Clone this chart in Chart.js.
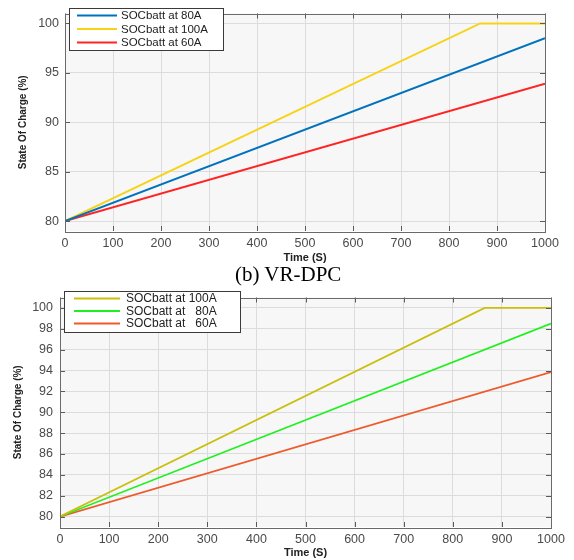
<!DOCTYPE html>
<html>
<head>
<meta charset="utf-8">
<script src="https://cdn.jsdelivr.net/npm/chart.js@4.4.1/dist/chart.umd.min.js"></script>
<style>
  html, body { margin: 0; padding: 0; background: #fff; }
  body { width: 574px; height: 560px; position: relative; overflow: hidden; }
  #wrapA { position: absolute; left: 0; top: 0; width: 574px; height: 265px; }
  #wrapB { position: absolute; left: 0; top: 283px; width: 574px; height: 277px; }
  #caption { position: absolute; left: 235px; top: 264px; font-family: "Liberation Serif", "Times New Roman", serif; font-size: 21px; line-height: 21px; color: #000; white-space: nowrap; }
</style>
</head>
<body>
<div id="wrapA"><canvas id="chartA" width="574" height="265"></canvas></div>
<div id="wrapB"><canvas id="chartB" width="574" height="277"></canvas></div>
<div id="caption">(b) VR-DPC</div>
<script>
// ---------- data ----------
const xTicks = [0, 100, 200, 300, 400, 500, 600, 700, 800, 900, 1000];
const yTicksTop = [80, 85, 90, 95, 100];
const yTicksBottom = [80, 82, 84, 86, 88, 90, 92, 94, 96, 98, 100];

const timeFull = [0, 1000];
const timeSat = [0, 865, 1000];

// top chart
const topLabels = ["SOCbatt at 80A", "SOCbatt at 100A", "SOCbatt at 60A"];
const top80 = [80, 98.5];
const top100 = [80, 100, 100];
const top60 = [80, 93.9];

// bottom chart
const bottomLabels = ["SOCbatt at 100A", "SOCbatt at   80A", "SOCbatt at   60A"];
const bottom100 = [80, 100, 100];
const bottom80 = [80, 98.5];
const bottom60 = [80, 93.85];

function pts(xs, ys) { return xs.map((x, i) => ({ x: x, y: ys[i] })); }

// ---------- plugins ----------
const bgPlugin = {
  id: 'bgPlugin',
  beforeDraw(chart) {
    const a = chart.chartArea, ctx = chart.ctx;
    ctx.save();
    ctx.fillStyle = '#f7f7f7';
    ctx.fillRect(a.left, a.top, a.right - a.left, a.bottom - a.top);
    ctx.restore();
  }
};

const boxPlugin = {
  id: 'boxPlugin',
  afterDatasetsDraw(chart) {
    const a = chart.chartArea, ctx = chart.ctx;
    const xs = chart.scales.x, ys = chart.scales.y;
    ctx.save();
    ctx.strokeStyle = '#5a5a5a';
    ctx.lineWidth = 1;
    ctx.beginPath();
    xs.ticks.forEach(t => {
      const px = Math.round(xs.getPixelForValue(t.value)) + 0.5;
      ctx.moveTo(px, a.bottom); ctx.lineTo(px, a.bottom - 5);
      ctx.moveTo(px, a.top); ctx.lineTo(px, a.top + 5);
    });
    ys.ticks.forEach(t => {
      const py = Math.round(ys.getPixelForValue(t.value)) + 0.5;
      ctx.moveTo(a.left, py); ctx.lineTo(a.left + 5, py);
      ctx.moveTo(a.right, py); ctx.lineTo(a.right - 5, py);
    });
    ctx.stroke();
    ctx.strokeStyle = '#6a6a6a';
    ctx.strokeRect(Math.round(a.left) + 0.5, Math.round(a.top) + 0.5,
                   Math.round(a.right - a.left), Math.round(a.bottom - a.top));
    ctx.restore();
  }
};

const legendPlugin = {
  id: 'legendPlugin',
  afterDraw(chart, args, opts) {
    const ctx = chart.ctx;
    ctx.save();
    ctx.fillStyle = '#ffffff';
    ctx.fillRect(opts.x, opts.y, opts.w, opts.h);
    ctx.strokeStyle = '#3a3a3a';
    ctx.lineWidth = 1;
    ctx.strokeRect(opts.x + 0.5, opts.y + 0.5, opts.w, opts.h);
    ctx.font = opts.fontSize + 'px "Liberation Sans", Arial, sans-serif';
    ctx.textBaseline = 'middle';
    ctx.textAlign = 'left';
    chart.data.datasets.forEach((ds, i) => {
      const yy = opts.y + opts.row0 + i * opts.rowH;
      ctx.strokeStyle = ds.borderColor;
      ctx.lineWidth = opts.lw;
      ctx.beginPath();
      ctx.moveTo(opts.x + opts.l0, yy);
      ctx.lineTo(opts.x + opts.l1, yy);
      ctx.stroke();
      ctx.fillStyle = '#222';
      ctx.fillText(ds.label, opts.x + opts.tx, yy + 0.5);
    });
    ctx.restore();
  }
};

function makeOptions(cfg) {
  return {
    responsive: false,
    animation: false,
    layout: { padding: { top: cfg.padTop, right: cfg.padRight, left: 0, bottom: 0 } },
    plugins: {
      legend: { display: false },
      tooltip: { enabled: false },
      legendPlugin: cfg.legend
    },
    scales: {
      x: {
        type: 'linear', min: 0, max: 1000,
        afterBuildTicks: s => { s.ticks = xTicks.map(v => ({ value: v })); },
        afterFit: s => { s.height = cfg.xHeight; },
        grid: { color: '#dcdcdc', drawTicks: false, lineWidth: 1 },
        border: { display: false },
        ticks: { padding: cfg.xTickPad, color: '#4a4a4a', callback: v => String(v), font: { family: '"Liberation Sans", Arial, sans-serif', size: 12.5 }, maxRotation: 0, autoSkip: false },
        title: { display: true, text: 'Time (S)', color: '#222', padding: { top: 0, bottom: cfg.xTitlePad }, font: { family: '"Liberation Sans", Arial, sans-serif', size: 11, weight: 'bold' } }
      },
      y: {
        type: 'linear', min: 79, max: 101,
        afterBuildTicks: s => { s.ticks = cfg.yTicks.map(v => ({ value: v })); },
        afterFit: s => { s.width = cfg.yWidth; },
        grid: { color: '#dcdcdc', drawTicks: false, lineWidth: 1 },
        border: { display: false },
        ticks: { padding: cfg.yTickPad, color: '#4a4a4a', callback: v => String(v), font: { family: '"Liberation Sans", Arial, sans-serif', size: 12.5 }, autoSkip: false },
        title: { display: true, text: 'State Of Charge (%)', color: '#222', padding: { top: cfg.yTitlePad, bottom: 0 }, font: { family: '"Liberation Sans", Arial, sans-serif', size: 10, weight: 'bold' } }
      }
    },
    elements: { point: { radius: 0 }, line: { tension: 0 } }
  };
}

// ---------- top chart ----------
new Chart(document.getElementById('chartA'), {
  type: 'line',
  data: {
    datasets: [
      { label: topLabels[0], data: pts(timeFull, top80), borderColor: '#0072BD', borderWidth: 2, fill: false },
      { label: topLabels[1], data: pts(timeSat, top100), borderColor: '#F7D318', borderWidth: 2, fill: false },
      { label: topLabels[2], data: pts(timeFull, top60), borderColor: '#FF2424', borderWidth: 2, fill: false }
    ]
  },
  options: makeOptions({
    padTop: 6, padRight: 29, xHeight: 34, yWidth: 65,
    xTickPad: 5, xTitlePad: 0, yTickPad: 6, yTitlePad: 17, yTicks: yTicksTop,
    legend: { x: 69, y: 8, w: 154, h: 42, row0: 7.5, rowH: 13.5, l0: 8, l1: 48, tx: 52, fontSize: 11.5, lw: 2 }
  }),
  plugins: [bgPlugin, boxPlugin, legendPlugin]
});

// ---------- bottom chart ----------
new Chart(document.getElementById('chartB'), {
  type: 'line',
  data: {
    datasets: [
      { label: bottomLabels[0], data: pts(timeSat, bottom100), borderColor: '#C9BF0C', borderWidth: 1.7, fill: false },
      { label: bottomLabels[1], data: pts(timeFull, bottom80), borderColor: '#1EF01E', borderWidth: 1.7, fill: false },
      { label: bottomLabels[2], data: pts(timeFull, bottom60), borderColor: '#EE5A2C', borderWidth: 1.7, fill: false }
    ]
  },
  options: makeOptions({
    padTop: 6, padRight: 23, xHeight: 33, yWidth: 60,
    xTickPad: 5, xTitlePad: 0, yTickPad: 7, yTitlePad: 12, yTicks: yTicksBottom,
    legend: { x: 64, y: 8, w: 176, h: 41, row0: 7.5, rowH: 12.5, l0: 10, l1: 56, tx: 62, fontSize: 12, lw: 2 }
  }),
  plugins: [bgPlugin, boxPlugin, legendPlugin]
});
</script>
</body>
</html>
